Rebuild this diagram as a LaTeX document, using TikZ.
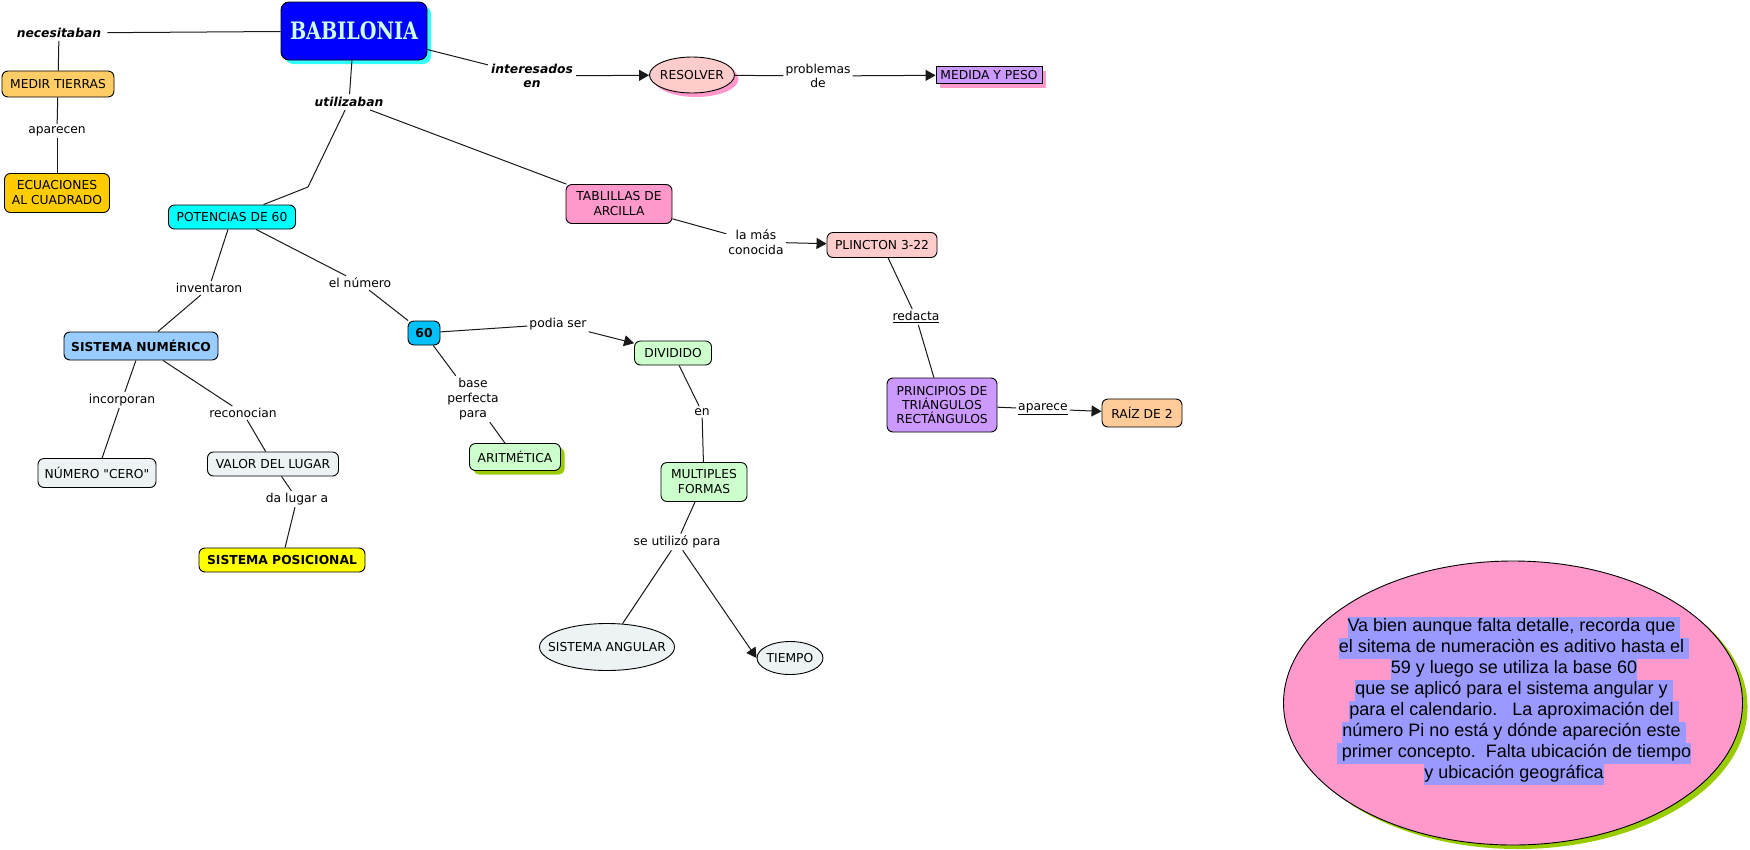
\documentclass[tikz,border=0pt]{standalone}
\usepackage{fontspec}
\usepackage{graphicx}
\setmainfont{DejaVu Sans}
\newfontfamily\serifb{DejaVu Serif}
\newfontfamily\arialf{Liberation Sans}
\usetikzlibrary{arrows.meta,shapes.geometric,shadows}
\definecolor{cBab}{HTML}{0000FF}
\definecolor{cBabTxt}{HTML}{CCFFE6}
\definecolor{cCyan}{HTML}{33FFFF}
\definecolor{cMedir}{HTML}{FFCC66}
\definecolor{cEcu}{HTML}{FFCC00}
\definecolor{cPot}{HTML}{00FFFF}
\definecolor{cSisnum}{HTML}{99CCFF}
\definecolor{cSesenta}{HTML}{00C0F8}
\definecolor{cGray}{HTML}{EDF3F5}
\definecolor{cYellow}{HTML}{FFFF00}
\definecolor{cGreen}{HTML}{CCFFCC}
\definecolor{cOlive}{HTML}{99CC00}
\definecolor{cPink}{HTML}{FF99CC}
\definecolor{cRose}{HTML}{FFCCCC}
\definecolor{cLav}{HTML}{CC99FF}
\definecolor{cPeach}{HTML}{FFCC99}
\definecolor{cHl}{HTML}{9999FF}
\newcommand{\tsp}{\kern0.278em}
\tikzset{
  base/.style={font=\fontsize{12.3}{15}\selectfont, align=center, text=black},
  cbox/.style={base, draw=black, line width=0.9pt, rounded corners=6pt, inner sep=1pt},
  ebox/.style={base, ellipse, draw=black, line width=0.9pt, inner sep=0pt},
  lab/.style={base, inner sep=2pt},
  blab/.style={lab, inner sep=3pt, font=\fontsize{12.3}{14}\selectfont\bfseries\itshape},
  link/.style={draw=black!90, line width=1pt},
  arr/.style={link, -{Triangle[length=10pt,width=11pt]}},
  shad/.style={drop shadow={shadow xshift=4pt, shadow yshift=-4pt, fill=#1, opacity=1}},
  hl/.style={fill=cHl, inner xsep=0pt, inner ysep=0pt, text height=15.3pt, text depth=5.7pt,
     font=\arialf\fontsize{18}{21}\selectfont, text=black}
}
\begin{document}
\begin{tikzpicture}[x=1pt,y=-1pt]
\useasboundingbox (0,0) rectangle (1750,849);
\fill[white] (0,0) rectangle (1750,849);

% main nodes
\node[cbox, fill=cBab, rounded corners=8pt, minimum width=146, minimum height=58, shad=cCyan] (bab) at (354,31)
  {\textcolor{cBabTxt}{\scalebox{0.8}[1]{\serifb\bfseries\fontsize{24}{26}\selectfont BABILONIA}}};
\node[blab, inner xsep=6pt] (nec) at (59,33) {necesitaban};
\node[cbox, fill=cMedir, minimum width=112, minimum height=26] (medir) at (58,84) {MEDIR TIERRAS};
\node[lab] (apar) at (57,131) {aparecen};
\node[cbox, fill=cEcu, minimum width=105, minimum height=39] (ecu) at (57,193) {ECUACIONES\\AL CUADRADO};
\node[blab] (util) at (349,102) {utilizaban};
\coordinate (bend1) at (308,187);
\node[cbox, fill=cPot, minimum width=127, minimum height=24] (pot) at (232,217) {POTENCIAS DE 60};
\node[blab] (inter) at (532,76) {interesados\\en};
\node[ebox, fill=cRose, minimum width=85, minimum height=36, shad=cPink] (res) at (692,75) {\makebox[0pt]{RESOLVER}};
\node[lab, font=\fontsize{12.3}{14}\selectfont] (prob) at (818,76) {problemas\\de};
\node[base, draw=black, line width=0.9pt, fill=cLav, inner sep=0pt, minimum width=106, minimum height=17, shad=cPink] (med) at (989,75) {MEDIDA Y PESO};
\node[cbox, fill=cPink, minimum width=106, minimum height=39] (tab) at (619,204) {TABLILLAS DE\\ARCILLA};
\node[lab, font=\fontsize{12.3}{15}\selectfont] (lamas) at (756,242) {la más\\conocida};
\node[cbox, fill=cRose, minimum width=110, minimum height=25] (plin) at (882,245) {PLINCTON 3-22};
\node[lab] (red) at (916,317) {\underline{redacta}};
\node[cbox, fill=cLav, minimum width=110, minimum height=54, font=\fontsize{12.3}{14}\selectfont] (prin) at (942,405) {PRINCIPIOS DE\\TRIÁNGULOS\\RECTÁNGULOS};
\node[lab] (apa2) at (1043,409) {\underline{aparece}};
\node[cbox, fill=cPeach, minimum width=80, minimum height=28] (raiz) at (1142,413) {RAÍZ DE 2};

\node[lab] (inv) at (209,288) {inventaron};
\node[lab] (eln) at (360,283) {el número};
\node[cbox, fill=cSisnum, minimum width=154, minimum height=28, font=\fontsize{12.3}{15}\selectfont\bfseries] (sisnum) at (141,346) {SISTEMA NUMÉRICO};
\node[cbox, fill=cSesenta, minimum width=32, minimum height=24, font=\fontsize{12.3}{15}\selectfont\bfseries] (sesenta) at (424,333) {60};
\node[lab] (pod) at (558,324) {podia ser};
\node[lab] (basep) at (473,399) {base\\perfecta\\para};
\node[cbox, fill=cGreen, minimum width=91, minimum height=27, shad=cOlive] (arit) at (515,457) {ARITMÉTICA};
\node[lab] (inc) at (122,400) {incorporan};
\node[cbox, fill=cGray, minimum width=118, minimum height=29] (cero) at (97,473) {NÚMERO \textquotedbl CERO\textquotedbl};
\node[lab] (rec) at (243,413) {reconocian};
\node[cbox, fill=cGray, minimum width=131, minimum height=24] (valor) at (273,464) {VALOR DEL LUGAR};
\node[lab] (dal) at (297,499) {da lugar a};
\node[cbox, fill=cYellow, minimum width=166, minimum height=24, font=\fontsize{12.3}{15}\selectfont\bfseries] (posic) at (282,560) {SISTEMA POSICIONAL};
\node[cbox, fill=cGreen, minimum width=77, minimum height=24] (div) at (673,353) {DIVIDIDO};
\node[lab] (en) at (702,412) {en};
\node[cbox, fill=cGreen, minimum width=86, minimum height=39] (mult) at (704,482) {MULTIPLES\\FORMAS};
\node[lab] (seu) at (677,542) {se utilizó para};
\node[ebox, fill=cGray, minimum width=135, minimum height=47] (sang) at (607,647) {\makebox[0pt]{SISTEMA ANGULAR}};
\node[ebox, fill=cGray, minimum width=66, minimum height=33] (tiempo) at (790,658) {\makebox[0pt]{TIEMPO}};

% comment ellipse
\node[ellipse, draw=black, line width=0.9pt, fill=cPink, minimum width=459, minimum height=284,
  drop shadow={shadow xshift=5pt, shadow yshift=-4pt, fill=cOlive, opacity=1}] (note) at (1513,703) {};
\node[hl] (n1) at (1514,627) {Va bien aunque falta detalle, recorda que\tsp};
\node[hl] (n2) at (1514,648) {el sitema de numeraciòn es aditivo hasta el\tsp};
\node[hl] (n3) at (1514,669) {59 y luego se utiliza la base 60};
\node[hl] (n4) at (1514,690) {que se aplicó para el sistema angular y\tsp};
\node[hl] (n5) at (1514,711) {para el calendario.\ \ \ La aproximación del\tsp};
\node[hl] (n6) at (1514,732) {número Pi no está y dónde apareción este\tsp};
\node[hl] (n7) at (1514,753) {\tsp primer concepto.\ \ Falta ubicación de tiempo};
\node[hl] (n8) at (1514,774) {y ubicación geográfica};

% connectors
\draw[link] (nec) -- (bab);
\draw[link] (nec) -- (medir);
\draw[link] (medir) -- (apar);
\draw[link] (apar) -- (ecu);
\draw[link] (bab) -- (util);
\draw[link] (util) -- (bend1) -- (pot);
\draw[link] (util) -- (tab);
\draw[link] (bab) -- (inter);
\draw[arr] (inter) -- (res);
\draw[link] (res) -- (prob);
\draw[arr] (prob) -- (med);
\draw[link] (tab) -- (lamas);
\draw[arr] (lamas) -- (plin);
\draw[link] (plin) -- (red);
\draw[link] (red) -- (prin);
\draw[link] (prin) -- (apa2);
\draw[arr] (apa2) -- (raiz);
\draw[link] (pot) -- (inv);
\draw[link] (inv) -- (sisnum);
\draw[link] (pot) -- (eln);
\draw[link] (eln) -- (sesenta);
\draw[link] (sesenta) -- (pod);
\draw[arr] (pod) -- (div);
\draw[link] (sesenta) -- (basep);
\draw[link] (basep) -- (arit);
\draw[link] (sisnum) -- (inc);
\draw[link] (inc) -- (cero);
\draw[link] (sisnum) -- (rec);
\draw[link] (rec) -- (valor);
\draw[link] (valor) -- (dal);
\draw[link] (dal) -- (posic);
\draw[link] (div) -- (en);
\draw[link] (en) -- (mult);
\draw[link] (mult) -- (seu);
\draw[link] (seu) -- (sang);
\draw[arr] (seu) -- (tiempo.west);
\end{tikzpicture}
\end{document}
